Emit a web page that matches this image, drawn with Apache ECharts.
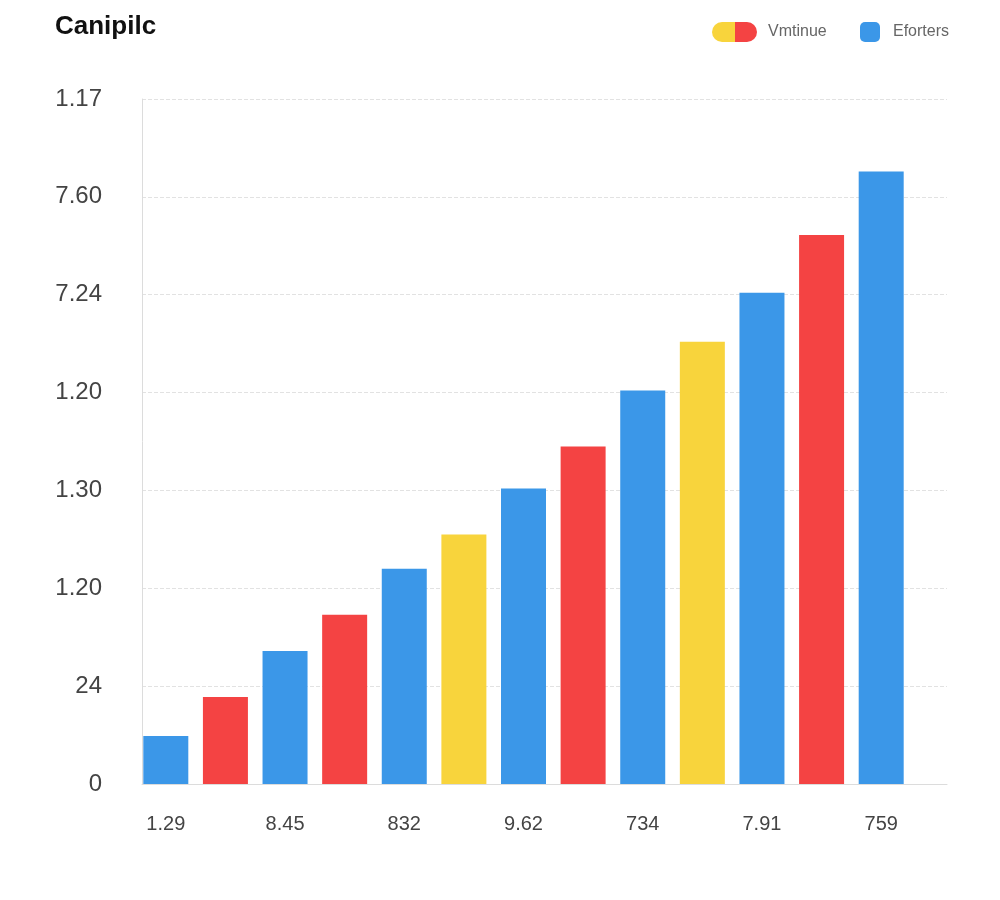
<!DOCTYPE html>
<html>
<head>
    <meta charset="utf-8">
    <script src="https://cdn.jsdelivr.net/npm/echarts@6/dist/echarts.min.js"></script>
    <style>
        body { margin: 0; background: #fff; }
    </style>
</head>
<body>
    <div id="main" style="width: 1000px;height:900px;"></div>
    <script type="text/javascript">
        // data
        var xLabels = ['1.29', '8.45', '832', '9.62', '734', '7.91', '759'];
        var yLabels = ['0', '24', '1.20', '1.30', '1.20', '7.24', '7.60', '1.17'];
        var values = [0.49, 0.89, 1.36, 1.73, 2.20, 2.55, 3.02, 3.45, 4.02, 4.52, 5.02, 5.61, 6.26];
        // b = Eforters (blue), r / y = Vmtinue (red / yellow)
        var kinds = ['b', 'r', 'b', 'r', 'b', 'y', 'b', 'r', 'b', 'y', 'b', 'r', 'b'];

        var BLUE = '#3b97e8';
        var RED = '#f44343';
        var YELLOW = '#f8d43c';
        var kindColor = {b: BLUE, r: RED, y: YELLOW};

        // one category per bar, a tick label under every second one
        var categories = values.map(function (v, i) {
            return i % 2 === 0 ? xLabels[i / 2] : '';
        });

        var blueData = values.map(function (v, i) {
            return kinds[i] === 'b' ? v : null;
        });
        var warmData = values.map(function (v, i) {
            if (kinds[i] === 'b') return null;
            return {value: v, itemStyle: {color: kindColor[kinds[i]]}};
        });

        var pillColor = {
            type: 'linear', x: 0, y: 0, x2: 1, y2: 0,
            colorStops: [
                {offset: 0, color: YELLOW},
                {offset: 0.5, color: YELLOW},
                {offset: 0.5, color: RED},
                {offset: 1, color: RED}
            ]
        };

        var option = {
            animation: false,
            backgroundColor: '#fff',
            textStyle: {fontFamily: 'Liberation Sans, Arial, sans-serif'},
            title: {
                text: 'Canipilc',
                left: 50,
                top: 9,
                textStyle: {fontSize: 26, fontWeight: 'bold', color: '#111'}
            },
            legend: [
                {
                    data: [{name: 'Vmtinue', itemStyle: {color: pillColor}}],
                    left: 707,
                    top: 17,
                    itemWidth: 45,
                    itemHeight: 20,
                    icon: 'path://M10,0 H35 A10,10 0 0 1 35,20 H10 A10,10 0 0 1 10,0 Z',
                    textStyle: {fontSize: 16, color: '#666', padding: [0, 0, 0, 6]}
                },
                {
                    data: ['Eforters'],
                    left: 855,
                    top: 17,
                    itemWidth: 20,
                    itemHeight: 20,
                    icon: 'roundRect',
                    textStyle: {fontSize: 16, color: '#666', padding: [0, 0, 0, 8]}
                }
            ],
            grid: [
                // bars
                {left: 136, right: 89, top: 99, bottom: 116},
                // frame, grid lines and y labels
                {left: 142, right: 53, top: 99, bottom: 116}
            ],
            xAxis: [
                {
                    type: 'category',
                    gridIndex: 0,
                    data: categories,
                    axisLine: {show: false},
                    axisTick: {show: false},
                    axisLabel: {interval: 0, fontSize: 20, color: '#444', margin: 30}
                },
                {
                    type: 'value',
                    gridIndex: 1,
                    min: 0,
                    max: 1,
                    axisLine: {show: true, lineStyle: {color: '#dcdcdc'}},
                    axisTick: {show: false},
                    axisLabel: {show: false},
                    splitLine: {show: false}
                }
            ],
            yAxis: [
                {
                    type: 'value',
                    gridIndex: 0,
                    min: 0,
                    max: 7,
                    show: false
                },
                {
                    type: 'value',
                    gridIndex: 1,
                    min: 0,
                    max: 7,
                    interval: 1,
                    axisLine: {show: true, lineStyle: {color: '#dcdcdc'}},
                    axisTick: {show: false},
                    axisLabel: {
                        fontSize: 24,
                        color: '#444',
                        margin: 40,
                        formatter: function (val) {
                            return yLabels[Math.round(val)];
                        }
                    },
                    splitLine: {show: true, lineStyle: {color: '#e2e2e2', type: 'dashed'}}
                }
            ],
            series: [
                {
                    name: 'Eforters',
                    type: 'bar',
                    xAxisIndex: 0,
                    yAxisIndex: 0,
                    barWidth: 45,
                    barGap: '-100%',
                    itemStyle: {color: BLUE},
                    data: blueData
                },
                {
                    name: 'Vmtinue',
                    type: 'bar',
                    xAxisIndex: 0,
                    yAxisIndex: 0,
                    barWidth: 45,
                    itemStyle: {color: RED},
                    data: warmData
                }
            ]
        };

        var myChart = echarts.init(document.getElementById('main'));
        myChart.setOption(option);
    </script>
</body>
</html>
